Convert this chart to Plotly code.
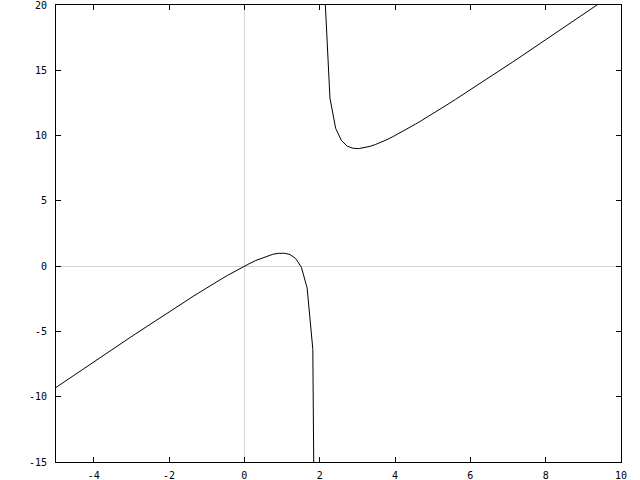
import plotly.graph_objects as go

# lower branch (x < 2)
x_lower = [-5.0000, -4.8485, -4.6970, -4.5455, -4.3939, -4.2424, -4.0909, -3.9394, -3.7879, -3.6364,
           -3.4848, -3.3333, -3.1818, -3.0303, -2.8788, -2.7273, -2.5758, -2.4242, -2.2727, -2.1212,
           -1.9697, -1.8182, -1.6667, -1.5152, -1.3636, -1.2121, -1.0606, -0.9091, -0.7576, -0.6061,
           -0.4545, -0.3030, -0.1515, 0.0000, 0.1515, 0.3030, 0.4545, 0.6061, 0.7576, 0.9091,
           1.0606, 1.2121, 1.3636, 1.5152, 1.6667, 1.8182, 1.9697]
y_lower = [-9.29, -8.99, -8.69, -8.40, -8.10, -7.81, -7.51, -7.22, -6.92, -6.63,
           -6.33, -6.04, -5.75, -5.46, -5.17, -4.88, -4.59, -4.30, -4.01, -3.73,
           -3.44, -3.16, -2.88, -2.60, -2.32, -2.05, -1.77, -1.51, -1.24, -0.98,
           -0.72, -0.47, -0.23, 0.00, 0.22, 0.43, 0.61, 0.78, 0.91, 0.98,
           0.99, 0.89, 0.58, -0.09, -1.67, -6.36, -61.06]

# upper branch (x > 2)
x_upper = [2.1212, 2.2727, 2.4242, 2.5758, 2.7273, 2.8788, 3.0303, 3.1818, 3.3333, 3.4848,
           3.6364, 3.7879, 3.9394, 4.0909, 4.2424, 4.3939, 4.5455, 4.6970, 4.8485, 5.0000,
           5.1515, 5.3030, 5.4545, 5.6061, 5.7576, 5.9091, 6.0606, 6.2121, 6.3636, 6.5152,
           6.6667, 6.8182, 6.9697, 7.1212, 7.2727, 7.4242, 7.5758, 7.7273, 7.8788, 8.0303,
           8.1818, 8.3333, 8.4848, 8.6364, 8.7879, 8.9394, 9.0909, 9.2424, 9.3939, 9.5455]
y_upper = [21.74, 12.88, 10.56, 9.63, 9.20, 9.03, 9.00, 9.06, 9.17, 9.32,
           9.49, 9.69, 9.91, 10.14, 10.38, 10.62, 10.88, 11.14, 11.40, 11.67,
           11.94, 12.21, 12.49, 12.77, 13.05, 13.33, 13.61, 13.90, 14.19, 14.47,
           14.76, 15.05, 15.34, 15.63, 15.92, 16.22, 16.51, 16.80, 17.10, 17.39,
           17.69, 17.98, 18.28, 18.57, 18.87, 19.17, 19.46, 19.76, 20.06, 20.36]

x_ticks = [-4, -2, 0, 2, 4, 6, 8, 10]
y_ticks = [-15, -10, -5, 0, 5, 10, 15, 20]

fig = go.Figure()
for xs, ys in ((x_lower, y_lower), (x_upper, y_upper)):
    fig.add_trace(go.Scatter(x=xs, y=ys, mode="lines",
                             line=dict(color="black", width=1), showlegend=False,
                             hoverinfo="skip"))

axis_common = dict(showgrid=False, zeroline=True, zerolinecolor="#d3d3d3", zerolinewidth=1,
                   showline=True, linecolor="black", linewidth=1, mirror="ticks",
                   ticks="inside", ticklen=5, tickcolor="black", tickwidth=1,
                   automargin=False, ticklabeloverflow="allow",
                   tickfont=dict(family="DejaVu Sans Mono", size=10, color="black"))

fig.update_xaxes(range=[-5, 10], tickvals=x_ticks, ticktext=[str(v) for v in x_ticks],
                 ticklabelstandoff=4, **axis_common)
fig.update_yaxes(range=[-15, 20], tickvals=y_ticks, ticktext=[str(v) for v in y_ticks],
                 ticklabelstandoff=6, **axis_common)

fig.update_layout(width=640, height=480, plot_bgcolor="white", paper_bgcolor="white",
                  margin=dict(l=56, r=19, t=5, b=18))

fig.write_html("out.html", config={"displayModeBar": False},
               post_script="document.body.style.margin='0';document.body.style.overflow='hidden';")
